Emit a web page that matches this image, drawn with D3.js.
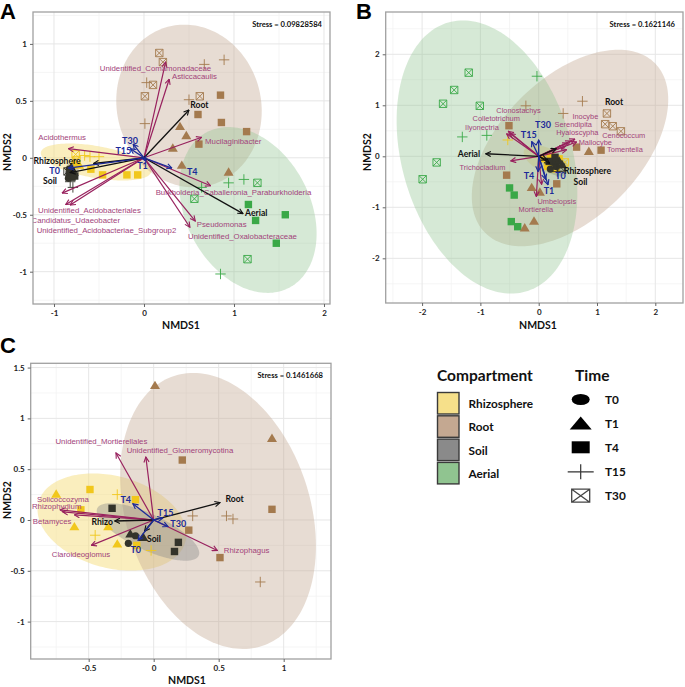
<!DOCTYPE html>
<html><head><meta charset="utf-8">
<script src="https://cdn.jsdelivr.net/npm/d3@7"></script>
<style>body{margin:0;background:#fff}</style>
</head><body>
<svg id="c" width="685" height="687"></svg>
<script>
// ---------------- DATA ----------------
const compartments = ["Rhizosphere","Root","Soil","Aerial"];
const times = ["T0","T1","T4","T15","T30"];

// [compartment, time, NMDS1, NMDS2]
const pointsA = [
 ["Root","T30",0.17,0.92],["Root","T30",0.21,0.84],["Root","T30",0.10,0.64],["Root","T30",0.01,0.54],["Root","T30",0.62,0.54],
 ["Root","T15",0.67,0.82],["Root","T15",0.89,0.86],["Root","T15",0.03,0.66],["Root","T15",0.50,0.51],["Root","T15",0.01,0.30],
 ["Root","T4",0.85,0.55],["Root","T4",0.60,0.38],["Root","T4",0.86,0.31],["Root","T4",1.14,0.23],["Root","T4",0.61,0.12],
 ["Root","T1",0.40,0.28],["Root","T1",0.47,0.20],["Root","T1",0.32,0.09],["Root","T1",0.42,-0.06],["Root","T1",0.94,-0.12],
 ["Aerial","T15",0.94,-0.22],["Aerial","T15",1.11,-0.19],["Aerial","T15",0.64,-0.26],["Aerial","T15",0.85,-1.02],
 ["Aerial","T30",1.26,-0.22],["Aerial","T30",0.56,-0.36],["Aerial","T30",1.15,-0.89],
 ["Aerial","T4",1.16,-0.41],["Aerial","T4",1.57,-0.50],["Aerial","T4",1.24,-0.55],["Aerial","T4",1.47,-0.75],
 ["Rhizosphere","T4",-0.46,-0.15],["Rhizosphere","T4",-0.19,-0.15],["Rhizosphere","T4",-0.07,-0.15],["Rhizosphere","T4",-0.59,-0.10],
 ["Rhizosphere","T15",-0.60,0.01],["Rhizosphere","T15",-0.50,0.01],["Rhizosphere","T15",-0.66,0.02],
 ["Rhizosphere","T30",-0.76,0.03],["Rhizosphere","T30",-0.75,-0.02],
 ["Rhizosphere","T1",-0.78,-0.04],["Rhizosphere","T1",-0.72,-0.06],
 ["Soil","T15",-0.82,-0.21],["Soil","T15",-0.79,-0.26],
 ["Soil","T0",-0.83,-0.10],["Soil","T0",-0.82,-0.13],["Soil","T0",-0.80,-0.15],["Soil","T0",-0.84,-0.18],
 ["Soil","T1",-0.81,-0.08],["Soil","T1",-0.78,-0.12],
 ["Soil","T4",-0.80,-0.17],["Soil","T4",-0.83,-0.15],["Soil","T4",-0.77,-0.16],
 ["Soil","T30",-0.85,-0.12]
];
const pointsB = [
 ["Aerial","T30",-1.20,1.64],["Aerial","T30",-1.45,1.30],["Aerial","T30",-1.64,1.03],["Aerial","T30",-1.01,0.99],["Aerial","T30",-1.75,-0.12],["Aerial","T30",-1.99,-0.45],
 ["Aerial","T15",-0.03,1.57],["Aerial","T15",-1.31,0.38],["Aerial","T15",-0.89,0.41],
 ["Aerial","T4",-0.50,-0.62],["Aerial","T4",-0.42,-0.76],["Aerial","T4",-0.47,-1.28],["Aerial","T4",-0.36,-1.38],
 ["Root","T30",1.17,0.84],["Root","T30",1.14,0.63],["Root","T30",1.27,0.59],["Root","T30",1.41,0.49],
 ["Root","T15",0.75,1.08],["Root","T15",0.42,0.84],["Root","T15",-0.22,0.99],
 ["Root","T4",-0.51,0.60],["Root","T4",0.65,0.18],["Root","T4",1.07,0.12],["Root","T4",-0.55,-0.37],["Root","T4",0.31,-0.54],
 ["Root","T1",0.86,0.11],["Root","T1",-0.12,-0.60],["Root","T1",0.02,-0.69],["Root","T1",-0.08,-1.26],["Root","T1",-0.24,-1.39],
 ["Rhizosphere","T15",-0.53,0.32],
 ["Rhizosphere","T4",0.05,-0.05],["Rhizosphere","T4",0.20,0.00],["Rhizosphere","T4",0.35,-0.05],["Rhizosphere","T4",0.15,-0.20],["Rhizosphere","T4",0.30,-0.25],
 ["Rhizosphere","T1",0.25,-0.10],["Rhizosphere","T30",0.45,-0.12],["Rhizosphere","T0",0.20,-0.15],
 ["Soil","T0",0.25,-0.12],["Soil","T0",0.30,-0.20],["Soil","T0",0.20,-0.25],
 ["Soil","T1",0.35,-0.08],["Soil","T1",0.40,-0.15],
 ["Soil","T4",0.28,-0.02],["Soil","T4",0.18,-0.10],
 ["Soil","T15",0.32,-0.30],["Soil","T30",0.38,-0.22]
];
const pointsC = [
 ["Root","T1",0.01,1.33],["Root","T1",0.91,0.81],
 ["Root","T4",0.22,0.59],["Root","T4",0.91,0.105],["Root","T4",0.27,-0.10],["Root","T4",0.51,-0.37],
 ["Root","T15",0.30,0.04],["Root","T15",0.56,0.04],["Root","T15",0.61,0.01],["Root","T15",0.82,-0.61],
 ["Rhizosphere","T1",-0.75,0.26],["Rhizosphere","T1",-0.61,-0.06],["Rhizosphere","T1",-0.35,-0.06],["Rhizosphere","T1",-0.28,-0.23],
 ["Rhizosphere","T4",-0.49,0.30],["Rhizosphere","T4",-0.14,0.20],["Rhizosphere","T4",-0.56,0.10],["Rhizosphere","T4",-0.13,-0.25],
 ["Rhizosphere","T15",-0.28,0.25],["Rhizosphere","T15",-0.45,-0.15],["Rhizosphere","T15",-0.02,-0.30],
 ["Soil","T4",-0.32,0.115],["Soil","T4",0.19,-0.22],["Soil","T4",0.16,-0.31],
 ["Soil","T0",-0.195,-0.23],["Soil","T0",-0.14,-0.155],
 ["Soil","T1",-0.18,-0.13],["Soil","T1",-0.08,-0.165]
];

// [compartment, centre1, centre2, u1, u2, v1, v2]  (ellipse = centre + cos t*u + sin t*v)
const ellipsesA = [
 ["Rhizosphere",-0.533,-0.037,0.613,-0.0855,-0.031,-0.138],
 ["Root",0.50,0.455,0.236,-0.695,-0.773,-0.164],
 ["Soil",-0.80,-0.125,0.017,-0.078,-0.077,-0.011],
 ["Aerial",1.156,-0.458,0.459,-0.682,-0.608,-0.255]
];
const ellipsesB = [
 ["Rhizosphere",0.125,-0.073,0.373,-0.199,-0.087,-0.213],
 ["Root",0.537,0.163,1.455,1.664,0.849,-0.970],
 ["Soil",0.28,-0.17,0.184,-0.177,-0.099,-0.135],
 ["Aerial",-0.887,-0.014,0.663,-2.638,-1.401,-0.460]
];
const ellipsesC = [
 ["Rhizosphere",-0.321,-0.020,0.565,-0.194,-0.0917,-0.437],
 ["Root",0.495,0.089,0.3375,-1.329,-0.673,-0.280],
 ["Soil",-0.044,-0.118,0.390,-0.233,-0.0586,-0.1605]
];

// [kind, label, tip1, tip2, label1, label2]
const arrowsA = [
 ["taxon","Unidentified_Comamonadaceae",0.24,0.84,0.128,0.788],
 ["taxon","Asticcacaulis",0.28,0.69,0.561,0.718],
 ["taxon","Mucilaginibacter",0.64,0.18,0.992,0.147],
 ["taxon","Acidothermus",-0.84,0.08,-0.909,0.174],
 ["taxon","Burkholderia_Caballeronia_Paraburkholderia",0.74,-0.245,0.994,-0.303],
 ["taxon","Pseudomonas",0.57,-0.555,0.863,-0.590],
 ["taxon","Unidentified_Oxalobacteraceae",0.51,-0.61,1.094,-0.693],
 ["taxon","Unidentified_Acidobacteriales",-0.87,-0.41,-0.606,-0.464],
 ["taxon","Candidatus_Udaeobacter",-0.82,-0.415,-0.758,-0.549],
 ["taxon","Unidentified_Acidobacteriae_Subgroup2",-0.91,-0.31,-0.417,-0.637],
 ["compartment","Root",0.50,0.42,0.615,0.461],
 ["compartment","Aerial",1.10,-0.49,1.247,-0.485],
 ["compartment","Rhizosphere",-0.56,-0.05,-0.965,-0.025],
 ["compartment","Soil",-0.82,-0.13,-1.044,-0.201],
 ["time","T30",-0.12,0.12,-0.156,0.156],
 ["time","T15",-0.15,0.08,-0.23,0.062],
 ["time","T1",0.02,-0.03,-0.017,-0.072],
 ["time","T4",0.31,-0.09,0.536,-0.116],
 ["time","T0",-0.84,-0.09,-0.993,-0.113]
];
const arrowsB = [
 ["taxon","Clonostachys",-0.52,0.49,-0.346,0.905],
 ["taxon","Colletotrichum",-0.49,0.45,-0.729,0.735],
 ["taxon","Ilyonectria",-0.55,0.44,-0.973,0.565],
 ["taxon","Trichocladium",-0.48,-0.09,-0.964,-0.224],
 ["taxon","Umbelopsis",0.05,-0.55,0.311,-0.880],
 ["taxon","Mortierella",-0.04,-0.79,-0.05,-1.040],
 ["taxon","Inocybe",0.62,0.34,0.80,0.79],
 ["taxon","Serendipita",0.55,0.30,0.593,0.62],
 ["taxon","Hyaloscypha",0.50,0.26,0.662,0.463],
 ["taxon","Cenococcum",0.65,0.28,1.458,0.405],
 ["taxon","Mallocybe",0.45,0.20,0.971,0.265],
 ["taxon","Tomentella",0.48,0.13,1.48,0.125],
 ["compartment","Aerial",-0.91,0.05,-1.196,0.039],
 ["compartment","Rhizosphere",0.19,-0.14,0.837,-0.282],
 ["compartment","Soil",0.14,-0.07,0.717,-0.498],
 ["compartment","Root",0.30,0.15,1.292,1.059],
 ["time","T30",0.0,0.32,0.074,0.633],
 ["time","T15",-0.12,0.29,-0.17,0.424],
 ["time","T4",-0.01,-0.30,-0.166,-0.38],
 ["time","T1",0.16,-0.56,0.177,-0.661],
 ["time","T0",0.12,-0.45,0.374,-0.38]
];
const arrowsC = [
 ["taxon","Unidentified_Mortierellales",-0.29,0.66,-0.402,0.771],
 ["taxon","Unidentified_Glomeromycotina",-0.06,0.62,0.202,0.682],
 ["taxon","Solicoccozyma",-0.72,0.10,-0.698,0.205],
 ["taxon","Rhizophydium",-0.70,0.08,-0.746,0.128],
 ["taxon","Betamyces",-0.61,0.05,-0.781,-0.010],
 ["taxon","Claroideoglomus",-0.48,-0.25,-0.559,-0.338],
 ["taxon","Rhizophagus",0.49,-0.30,0.715,-0.302],
 ["compartment","Root",0.51,0.17,0.623,0.204],
 ["compartment","Rhizo",-0.30,-0.01,-0.396,-0.023],
 ["compartment","Soil",-0.07,-0.11,0.002,-0.19],
 ["time","T4",-0.16,0.16,-0.215,0.204],
 ["time","T15",0.07,0.02,0.091,0.076],
 ["time","T30",0.11,-0.065,0.189,-0.039],
 ["time","T0",-0.12,-0.20,-0.138,-0.295]
];

const stressLabels = ["Stress = 0.09828584","Stress = 0.1621146","Stress = 0.1461668"];
const xTicksA = [-1,0,1,2],  yTicksA = [-1,-0.5,0,0.5,1];
const xTicksB = [-2,-1,0,1,2], yTicksB = [-2,-1,0,1,2];
const xTicksC = [-0.5,0,0.5,1], yTicksC = [-1,-0.5,0,0.5,1,1.5];

// ---------------- STYLE ----------------
const ellFill = {Rhizosphere:"#F6DE7E",Root:"#C4A891",Soil:"#8A8A8A",Aerial:"#90C490"};
const ellOp = {Rhizosphere:0.5,Root:0.4,Soil:0.4,Aerial:0.37};
const ptCol = {Rhizosphere:"#F1C71C",Root:"#A47A4E",Soil:"#33332A",Aerial:"#3AA847"};
const legendFill = {Rhizosphere:"#F6E08A",Root:"#C4A891",Soil:"#8A8A8A",Aerial:"#90C490"};
const arrowCol = {taxon:"#98215E",compartment:"#111111",time:"#1B2A99"};
const labelCol = {taxon:"#A2437A",compartment:"#111111",time:"#1B2A99"};
const BOLD = "Lato, 'Open Sans', sans-serif";
const PLAIN = "'Liberation Sans', Arial, sans-serif";

const svg = d3.select("#c");
const defs = svg.append("defs");
Object.entries(arrowCol).forEach(([k,c])=>{
  defs.append("marker").attr("id","ah-"+k).attr("viewBox","0 0 10 10")
   .attr("refX",9).attr("refY",5).attr("markerWidth",6.5).attr("markerHeight",6.5)
   .attr("markerUnits","userSpaceOnUse").attr("orient","auto")
   .append("path").attr("d","M1,1 L9,5 L1,9").attr("fill","none")
   .attr("stroke",c).attr("stroke-width",1.7);
});

function symbol(g, time, cx, cy, col, s){
  s = s || 1;
  if(time==="T0"){
    g.append("circle").attr("cx",cx).attr("cy",cy).attr("r",3.6*s).attr("fill",col);
  } else if(time==="T1"){
    const w=5*s,h=4.2*s;
    g.append("path").attr("d",`M${cx-w},${cy+h}L${cx+w},${cy+h}L${cx},${cy-h}Z`).attr("fill",col);
  } else if(time==="T4"){
    const h=3.7*s;
    g.append("rect").attr("x",cx-h).attr("y",cy-h).attr("width",2*h).attr("height",2*h).attr("fill",col);
  } else if(time==="T15"){
    const h=5.2*s;
    g.append("path").attr("d",`M${cx-h},${cy}H${cx+h}M${cx},${cy-h}V${cy+h}`).attr("stroke",col).attr("stroke-width",0.9).attr("fill","none");
  } else {
    const h=3.7*s;
    g.append("path").attr("d",`M${cx-h},${cy-h}H${cx+h}V${cy+h}H${cx-h}ZM${cx-h},${cy-h}L${cx+h},${cy+h}M${cx+h},${cy-h}L${cx-h},${cy+h}`)
      .attr("stroke",col).attr("stroke-width",0.9).attr("fill","none");
  }
}

const panels = [
 {letter:"A",pts:pointsA,ell:ellipsesA,arr:arrowsA,stress:stressLabels[0],xt:xTicksA,yt:yTicksA,
  box:[33,330,12,304],xdom:[-1.2333,2.0667],ydom:[-1.2836,1.28],xminor:0.5,yminor:0.25,
  let:[0,19],xtl:[181,325],ytl:[7,152],tx:7.8},
 {letter:"B",pts:pointsB,ell:ellipsesB,arr:arrowsB,stress:stressLabels[1],xt:xTicksB,yt:yTicksB,
  box:[385.7,683,12,303],xdom:[-2.624,2.475],ydom:[-2.876,2.829],xminor:0.5,yminor:0.5,
  let:[356,19],xtl:[538,325],ytl:[367,152],tx:7.4},
 {letter:"C",pts:pointsC,ell:ellipsesC,arr:arrowsC,stress:stressLabels[2],xt:xTicksC,yt:yTicksC,
  box:[30.7,331,363.3,659],xdom:[-0.946,1.364],ydom:[-1.368,1.542],xminor:0.25,yminor:0.25,
  let:[0,353],xtl:[187,680],ytl:[7,500],tx:7.8}
];

panels.forEach((p,pi)=>{
  const [x0,x1,y0,y1]=p.box;
  const xs=d3.scaleLinear().domain(p.xdom).range([x0,x1]);
  const ys=d3.scaleLinear().domain(p.ydom).range([y1,y0]);
  const g=svg.append("g");
  g.append("rect").attr("x",x0).attr("y",y0).attr("width",x1-x0).attr("height",y1-y0).attr("fill","#fff");
  // grid
  const mx=[],my=[];
  for(let v=Math.ceil(p.xdom[0]/p.xminor)*p.xminor; v<=p.xdom[1]; v+=p.xminor) mx.push(+v.toFixed(4));
  for(let v=Math.ceil(p.ydom[0]/p.yminor)*p.yminor; v<=p.ydom[1]; v+=p.yminor) my.push(+v.toFixed(4));
  g.selectAll(null).data(mx.filter(v=>!p.xt.includes(v))).enter().append("line")
   .attr("x1",d=>xs(d)).attr("x2",d=>xs(d)).attr("y1",y0).attr("y2",y1).attr("stroke","#F3F3F3").attr("stroke-width",0.8);
  g.selectAll(null).data(my.filter(v=>!p.yt.includes(v))).enter().append("line")
   .attr("y1",d=>ys(d)).attr("y2",d=>ys(d)).attr("x1",x0).attr("x2",x1).attr("stroke","#F3F3F3").attr("stroke-width",0.8);
  g.selectAll(null).data(p.xt).enter().append("line")
   .attr("x1",d=>xs(d)).attr("x2",d=>xs(d)).attr("y1",y0).attr("y2",y1).attr("stroke","#E6E6E6").attr("stroke-width",1);
  g.selectAll(null).data(p.yt).enter().append("line")
   .attr("y1",d=>ys(d)).attr("y2",d=>ys(d)).attr("x1",x0).attr("x2",x1).attr("stroke","#E6E6E6").attr("stroke-width",1);

  const clipId="clip"+pi;
  defs.append("clipPath").attr("id",clipId).append("rect").attr("x",x0).attr("y",y0).attr("width",x1-x0).attr("height",y1-y0);
  const inner=g.append("g").attr("clip-path",`url(#${clipId})`);

  // ellipses
  const line=d3.line().curve(d3.curveLinearClosed);
  const ts=d3.range(0,2*Math.PI,Math.PI/90);
  p.ell.forEach(e=>{
    const [comp,cx,cy,ux,uy,vx,vy]=e;
    const pts=ts.map(t=>[xs(cx+ux*Math.cos(t)+vx*Math.sin(t)), ys(cy+uy*Math.cos(t)+vy*Math.sin(t))]);
    inner.append("path").attr("d",line(pts)).attr("fill",ellFill[comp]).attr("fill-opacity",ellOp[comp]);
  });
  // points
  p.pts.forEach(d=>symbol(inner,d[1],xs(d[2]),ys(d[3]),ptCol[d[0]]));
  // arrows
  const order=["taxon","compartment","time"];
  order.forEach(kind=>{
    p.arr.filter(a=>a[0]===kind).forEach(a=>{
      inner.append("line").attr("x1",xs(0)).attr("y1",ys(0)).attr("x2",xs(a[2])).attr("y2",ys(a[3]))
        .attr("stroke",arrowCol[kind]).attr("stroke-width",kind==="taxon"?1.2:1.3)
        .attr("marker-end",`url(#ah-${kind})`);
    });
  });
  p.arr.forEach(a=>{
    const kind=a[0];
    const t=inner.append("text").attr("x",xs(a[4])).attr("y",ys(a[5]))
      .attr("text-anchor","middle").attr("dominant-baseline","central")
      .attr("fill",labelCol[kind]).text(a[1]);
    if(kind==="taxon") t.attr("font-family",PLAIN).attr("font-size",p.tx);
    else t.attr("font-family",BOLD).attr("font-weight","bold").attr("font-size",kind==="time"?9:8.6);
  });
  // stress
  g.append("text").attr("x",x1-8).attr("y",y0+15).attr("text-anchor","end")
   .attr("font-family",BOLD).attr("font-weight","bold").attr("font-size",7.6).attr("fill","#111").text(p.stress);
  // border
  g.append("rect").attr("x",x0).attr("y",y0).attr("width",x1-x0).attr("height",y1-y0)
   .attr("fill","none").attr("stroke","#A0A0A0").attr("stroke-width",1.3);
  // axes
  const ax=g.append("g").attr("transform",`translate(0,${y1})`)
    .call(d3.axisBottom(xs).tickValues(p.xt).tickSize(3).tickPadding(3).tickFormat(d=>String(d)));
  const ay=g.append("g").attr("transform",`translate(${x0},0)`)
    .call(d3.axisLeft(ys).tickValues(p.yt).tickSize(3).tickPadding(3).tickFormat(d=>String(d)));
  [ax,ay].forEach(a=>{
    a.select(".domain").remove();
    a.selectAll(".tick line").attr("stroke","#666");
    a.selectAll(".tick text").attr("font-family",BOLD).attr("font-weight","bold").attr("font-size",8).attr("fill","#222");
  });
  // titles
  g.append("text").attr("x",p.xtl[0]).attr("y",p.xtl[1]).attr("text-anchor","middle").attr("dominant-baseline","central")
   .attr("font-family",BOLD).attr("font-weight","bold").attr("font-size",10.5).attr("fill","#111").text("NMDS1");
  g.append("text").attr("transform",`translate(${p.ytl[0]},${p.ytl[1]}) rotate(-90)`).attr("text-anchor","middle")
   .attr("dominant-baseline","central")
   .attr("font-family",BOLD).attr("font-weight","bold").attr("font-size",10.5).attr("fill","#111").text("NMDS2");
  g.append("text").attr("x",p.let[0]).attr("y",p.let[1])
   .attr("font-family","'Liberation Sans', Arial, sans-serif").attr("font-weight","bold").attr("font-size",22).attr("fill","#000").text(p.letter);
});

// ---------------- LEGEND ----------------
const lg=svg.append("g");
lg.append("text").attr("x",437).attr("y",381).attr("font-family",BOLD).attr("font-weight","bold").attr("font-size",15.5).attr("fill","#111").text("Compartment");
compartments.forEach((c,i)=>{
  const y=392.5+i*23.3;
  lg.append("rect").attr("x",437.5).attr("y",y).attr("width",21.5).attr("height",21.5)
    .attr("fill",legendFill[c]).attr("stroke","#3A3A3A").attr("stroke-width",1.4);
  lg.append("text").attr("x",468.5).attr("y",y+11).attr("dominant-baseline","central")
    .attr("font-family",BOLD).attr("font-weight","bold").attr("font-size",11.8).attr("fill","#111").text(c);
});
lg.append("text").attr("x",575).attr("y",381).attr("font-family",BOLD).attr("font-weight","bold").attr("font-size",15.5).attr("fill","#111").text("Time");
times.forEach((t,i)=>{
  const y=[399.5,423,447.3,471.8,495.7][i];
  const cx=580.7;
  if(t==="T0") lg.append("ellipse").attr("cx",cx).attr("cy",y).attr("rx",9).attr("ry",5.6).attr("fill","#000");
  else if(t==="T1") lg.append("path").attr("d",`M${cx-11},${y+6.5}L${cx+11},${y+6.5}L${cx},${y-6.5}Z`).attr("fill","#000");
  else if(t==="T4") lg.append("rect").attr("x",cx-9).attr("y",y-6).attr("width",18).attr("height",12).attr("fill","#000");
  else if(t==="T15") lg.append("path").attr("d",`M${cx-13},${y}H${cx+13}M${cx},${y-7.5}V${y+7.5}`).attr("stroke","#333").attr("stroke-width",1.2);
  else lg.append("path").attr("d",`M${cx-9},${y-6.5}H${cx+9}V${y+6.5}H${cx-9}ZM${cx-9},${y-6.5}L${cx+9},${y+6.5}M${cx+9},${y-6.5}L${cx-9},${y+6.5}`)
        .attr("stroke","#444").attr("stroke-width",1.3).attr("fill","none");
  lg.append("text").attr("x",605).attr("y",y).attr("dominant-baseline","central")
    .attr("font-family",BOLD).attr("font-weight","bold").attr("font-size",11.8).attr("fill","#111").text(t);
});
</script>
</body></html>
